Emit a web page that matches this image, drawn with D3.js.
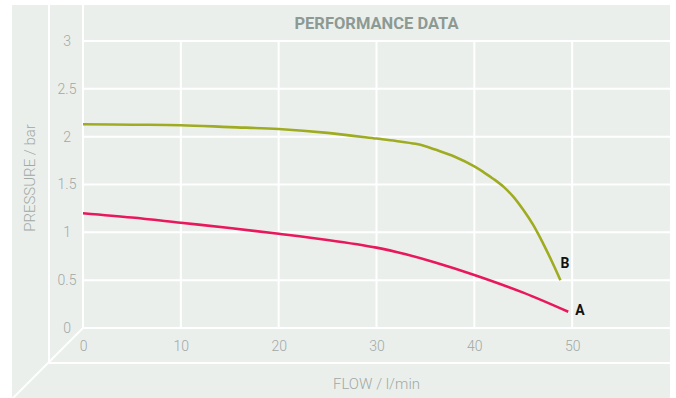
<!DOCTYPE html>
<html>
<head>
    <meta charset="utf-8" />
    <title>Performance data</title>
    <style>
        body { margin: 0; background: #fff; }
        svg { display: block; }
        text { font-family: Roboto, "DejaVu Sans", sans-serif; }
    </style>
</head>
<body>
    <script src="https://d3js.org/d3.v7.min.js"></script>

    <script>

        // chart data
        let flowTicks = [0, 10, 20, 30, 40, 50]
        let pressureTicks = [0, 0.5, 1, 1.5, 2, 2.5, 3]

        let flowB = [0, 5, 10, 15, 20, 25, 30, 32, 34, 35, 36, 38, 40, 41, 42, 43, 44, 45, 46, 47, 48, 48.8]
        let pressureB = [2.13, 2.125, 2.12, 2.10, 2.08, 2.04, 1.98, 1.955, 1.925, 1.90, 1.865, 1.79, 1.69, 1.625, 1.555, 1.475, 1.37, 1.235, 1.08, 0.89, 0.68, 0.50]

        let flowA = [0, 5, 10, 15, 20, 25, 30, 33, 36, 40, 45, 49.6]
        let pressureA = [1.20, 1.155, 1.10, 1.045, 0.985, 0.92, 0.84, 0.77, 0.685, 0.555, 0.37, 0.17]

        let seriesNames = ['B', 'A']

        let width = 676,
            height = 398,
            panel = { left: 12, top: 5, right: 670, bottom: 398 },
            wallX = 49,
            floorY = 363,
            bg = '#ebefec',
            tickColor = '#a1a9a4',
            colors = { A: '#e9175c', B: '#9fac22' }

        let x = d3.scaleLinear().domain([0, 60]).range([83, 670])
        let y = d3.scaleLinear().domain([0, 3]).range([328, 41])

        let svg = d3.select('body')
                    .append('svg')
                    .attr('width', width)
                    .attr('height', height)

        // background panel
        svg.append('rect')
            .attr('x', panel.left)
            .attr('y', panel.top)
            .attr('width', panel.right - panel.left)
            .attr('height', panel.bottom - panel.top)
            .attr('fill', bg)

        let frame = svg.append('g')
                        .attr('stroke', '#fff')
                        .attr('stroke-width', 2)
                        .attr('fill', 'none')

        // the 3d-ish wall / floor lines
        frame.append('line')
            .attr('x1', wallX).attr('y1', panel.top)
            .attr('x2', wallX).attr('y2', floorY)
        frame.append('line')
            .attr('x1', wallX).attr('y1', floorY)
            .attr('x2', panel.right).attr('y2', floorY)
        frame.append('line')
            .attr('x1', x(0)).attr('y1', y(0))
            .attr('x2', x(0) - (panel.bottom + 2 - y(0))).attr('y2', panel.bottom + 2)

        // grid
        let grid = svg.append('g')
                        .classed('grid', true)
                        .attr('stroke', '#fff')
                        .attr('stroke-width', 2)

        grid.selectAll('line.v')
            .data(flowTicks)
            .enter()
                .append('line')
                .classed('v', true)
                .attr('x1', function (d) { return x(d) })
                .attr('x2', function (d) { return x(d) })
                .attr('y1', function (d) { return d === 0 ? panel.top : y(3) })
                .attr('y2', y(0))

        grid.selectAll('line.h')
            .data(pressureTicks)
            .enter()
                .append('line')
                .classed('h', true)
                .attr('x1', x(0))
                .attr('x2', panel.right)
                .attr('y1', function (d) { return y(d) })
                .attr('y2', function (d) { return y(d) })

        // axes (labels only, lines are the grid)
        let yAxis = d3.axisLeft(y)
                        .tickValues(pressureTicks)
                        .tickFormat(d3.format('~g'))
                        .tickSize(0)
                        .tickPadding(0)
        let yG = svg.append('g')
                    .attr('transform', 'translate(67, 0)')
                    .call(yAxis)
        yG.select('.domain').remove()
        yG.selectAll('text')
            .attr('text-anchor', 'middle')
            .attr('fill', tickColor)
            .style('font-size', '14px')
            .style('font-weight', 300)

        let xAxis = d3.axisBottom(x).tickValues(flowTicks).tickSize(0).tickPadding(0)
        let xG = svg.append('g')
                    .attr('transform', 'translate(0, 347)')
                    .call(xAxis)
        xG.select('.domain').remove()
        xG.selectAll('text')
            .attr('dy', '0.32em')
            .attr('fill', tickColor)
            .style('font-size', '14px')
            .style('font-weight', 300)

        // titles
        svg.append('text')
            .attr('x', (x(0) + panel.right) / 2)
            .attr('y', 29)
            .attr('text-anchor', 'middle')
            .attr('fill', '#8c9a93')
            .style('font-size', '16.5px')
            .style('font-weight', 700)
            .text('PERFORMANCE DATA')

        svg.append('text')
            .attr('x', (x(0) + panel.right) / 2)
            .attr('y', 389)
            .attr('text-anchor', 'middle')
            .attr('fill', tickColor)
            .style('font-size', '15px')
            .style('font-weight', 300)
            .text('FLOW / l/min')

        svg.append('text')
            .attr('transform', 'translate(35, 178) rotate(-90)')
            .attr('text-anchor', 'middle')
            .attr('fill', tickColor)
            .style('font-size', '15px')
            .style('font-weight', 300)
            .text('PRESSURE / bar')

        // curves
        let series = {
            A: flowA.map(function (f, i) { return { x: f, y: pressureA[i] } }),
            B: flowB.map(function (f, i) { return { x: f, y: pressureB[i] } })
        }

        let line = d3.line()
                    .curve(d3.curveCatmullRom.alpha(0.5))
                    .x(function (d) { return x(d.x) })
                    .y(function (d) { return y(d.y) })

        let body = svg.append('g').classed('body', true)

        body.selectAll('path.line')
            .data(seriesNames)
            .enter()
                .append('path')
                .classed('line', true)
                .attr('fill', 'none')
                .attr('stroke', function (d) { return colors[d] })
                .attr('stroke-width', 2.6)
                .attr('d', function (d) { return line(series[d]) })

        // end labels
        let labelOffset = { A: [7, 3], B: [0, -12] }
        body.selectAll('text.end')
            .data(seriesNames)
            .enter()
                .append('text')
                .classed('end', true)
                .attr('x', function (d) { let p = series[d][series[d].length - 1]; return x(p.x) + labelOffset[d][0] })
                .attr('y', function (d) { let p = series[d][series[d].length - 1]; return y(p.y) + labelOffset[d][1] })
                .attr('fill', '#111')
                .style('font-size', '14px')
                .style('font-weight', 700)
                .text(function (d) { return d })

    </script>
</body>
</html>
